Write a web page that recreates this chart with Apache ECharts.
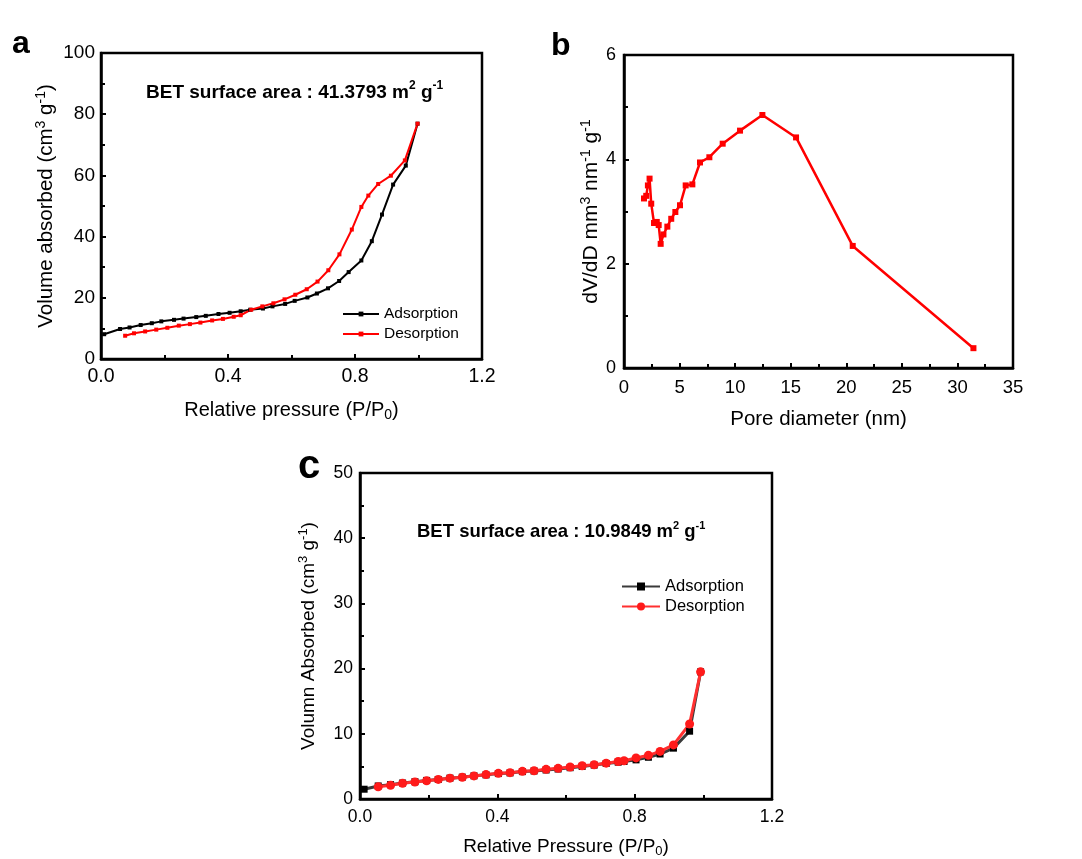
<!DOCTYPE html>
<html><head><meta charset="utf-8">
<script src="https://cdn.jsdelivr.net/npm/echarts@6/dist/echarts.min.js"></script>
<style>html,body{margin:0;padding:0;background:#fff}#main{width:1082px;height:859px}</style>
</head><body><div id="main"></div>
<script>
// ---- Panel a: N2 isotherm ----
const aAdsX = [0.01,0.06,0.09,0.125,0.16,0.19,0.23,0.26,0.30,0.33,0.37,0.405,0.44,0.47,0.51,0.54,0.58,0.61,0.65,0.68,0.715,0.75,0.78,0.82,0.853,0.885,0.92,0.96,0.997];
const aAdsY = [8.1,9.8,10.3,11.1,11.7,12.3,12.8,13.2,13.7,14.1,14.7,15.1,15.6,16.1,16.5,17.2,18.0,19.0,20.1,21.4,23.1,25.5,28.4,32.2,38.5,47.2,57.0,63.2,76.9];
const aDesX = [0.076,0.104,0.139,0.174,0.209,0.245,0.28,0.313,0.35,0.384,0.418,0.44,0.473,0.508,0.543,0.578,0.612,0.648,0.682,0.716,0.751,0.79,0.82,0.842,0.873,0.913,0.957,0.997];
const aDesY = [7.6,8.4,9.0,9.6,10.2,10.9,11.4,11.9,12.6,13.1,13.8,14.3,16.1,17.2,18.2,19.5,21.0,22.8,25.3,29.0,34.2,42.3,49.7,53.4,57.2,59.9,64.9,76.9];
// ---- Panel b: pore size distribution ----
const bX = [1.8,2.0,2.15,2.3,2.45,2.7,2.95,3.12,3.3,3.55,3.9,4.25,4.62,5.04,5.55,6.15,6.84,7.68,8.88,10.44,12.45,15.48,20.58,31.44];
const bY = [3.25,3.3,3.5,3.63,3.15,2.78,2.8,2.74,2.38,2.56,2.71,2.86,2.99,3.12,3.5,3.52,3.94,4.04,4.3,4.55,4.85,4.42,2.34,0.38];
// ---- Panel c: N2 isotherm ----
const cAdsX = [0.012,0.053,0.089,0.124,0.16,0.194,0.228,0.262,0.298,0.332,0.367,0.403,0.437,0.473,0.507,0.542,0.577,0.612,0.647,0.682,0.717,0.752,0.769,0.804,0.84,0.874,0.913,0.96,0.992];
const cAdsY = [1.5,2.0,2.2,2.45,2.65,2.85,3.0,3.2,3.35,3.55,3.7,3.9,4.0,4.2,4.3,4.45,4.6,4.8,5.0,5.2,5.45,5.65,5.75,6.0,6.4,6.9,7.8,10.4,19.5];
const cDesX = [0.053,0.089,0.124,0.16,0.194,0.228,0.262,0.298,0.332,0.367,0.403,0.437,0.473,0.507,0.542,0.577,0.612,0.647,0.682,0.717,0.752,0.769,0.804,0.84,0.874,0.913,0.96,0.992];
const cDesY = [1.87,2.1,2.4,2.6,2.8,3.0,3.2,3.33,3.54,3.74,3.94,4.04,4.24,4.34,4.55,4.7,4.9,5.1,5.25,5.5,5.76,5.86,6.3,6.7,7.3,8.3,11.5,19.5];
// ---- tick labels ----
const pressureTicks = ['0.0','0.4','0.8','1.2'];
const aYTicks = ['0','20','40','60','80','100'];
const bXTicks = ['0','5','10','15','20','25','30','35'];
const bYTicks = ['0','2','4','6'];
const cYTicks = ['0','10','20','30','40','50'];

const zip = (xs, ys) => xs.map((x, i) => [x, ys[i]]);
const FF = 'Liberation Sans';

function richName(fs) {
  return {
    n: {fontSize: fs, fontFamily: FF, color: '#000', lineHeight: fs + 4},
    sup: {fontSize: Math.round(fs * 0.68), fontFamily: FF, color: '#000', lineHeight: 10, verticalAlign: 'top'},
    sub: {fontSize: Math.round(fs * 0.68), fontFamily: FF, color: '#000', lineHeight: 10, verticalAlign: 'bottom'}
  };
}

function mkAxis(gi, max, interval, labels, fs, margin, name, gap, nfs) {
  return {
    type: 'value', gridIndex: gi, min: 0, max: max, interval: interval,
    name: name, nameLocation: 'middle', nameGap: gap,
    nameTextStyle: {rich: richName(nfs)},
    axisLine: {show: true, onZero: false, lineStyle: {color: '#000', width: 2.5}},
    axisTick: {show: true, inside: true, length: 5, lineStyle: {color: '#000', width: 2}},
    minorTick: {show: true, splitNumber: 2, length: 4, lineStyle: {color: '#000', width: 2}},
    axisLabel: {color: '#000', fontSize: fs, fontFamily: FF, margin: margin,
      formatter: v => labels[Math.round(v / interval)]},
    splitLine: {show: false}, minorSplitLine: {show: false}
  };
}

const gridBase = {show: true, borderColor: '#000', borderWidth: 2.5, backgroundColor: 'transparent', containLabel: false};
const annRich = fs => ({
  b: {fontSize: fs, fontWeight: 'bold', fontFamily: FF, fill: '#000', lineHeight: fs + 6},
  s: {fontSize: Math.round(fs * 0.62), fontWeight: 'bold', fontFamily: FF, fill: '#000', lineHeight: 12, verticalAlign: 'top'}
});

const option = {
  backgroundColor: '#fff',
  animation: false,
  textStyle: {fontFamily: FF},
  grid: [
    Object.assign({left: 101, top: 53, width: 381, height: 306}, gridBase),
    Object.assign({left: 624, top: 55, width: 389, height: 313}, gridBase),
    Object.assign({left: 360, top: 473, width: 412, height: 330}, gridBase)
  ],
  xAxis: [
    mkAxis(0, 1.2, 0.4, pressureTicks, 19.5, 8, '{n|Relative pressure (P/P}{sub|0}{n|)}', 39, 20),
    mkAxis(1, 35, 5, bXTicks, 18.5, 10, '{n|Pore diameter (nm)}', 39, 20.5),
    mkAxis(2, 1.2, 0.4, pressureTicks, 17.5, 9, '{n|Relative Pressure (P/P}{sub|0}{n|)}', 36, 19)
  ],
  yAxis: [
    mkAxis(0, 100, 20, aYTicks, 19, 6, '{n|Volume absorbed (cm}{sup|3}{n| g}{sup|-1}{n|)}', 42, 20.5),
    mkAxis(1, 6, 2, bYTicks, 18, 8, '{n|dV/dD mm}{sup|3}{n| nm}{sup|-1}{n| g}{sup|-1}', 20, 21),
    mkAxis(2, 50, 10, cYTicks, 17.5, 7, '{n|Volumn Absorbed (cm}{sup|3}{n| g}{sup|-1}{n|)}', 40, 19)
  ],
  legend: [
    {left: 342, top: 306, padding: 0, orient: 'vertical', itemWidth: 36, itemHeight: 6, itemGap: 4,
     textStyle: {fontSize: 15.5, fontFamily: FF, color: '#000'},
     data: ['Adsorption', 'Desorption'], selectedMode: false},
    {left: 621, top: 578, padding: 0, orient: 'vertical', itemWidth: 38, itemHeight: 10, itemGap: 3,
     textStyle: {fontSize: 16.5, fontFamily: FF, color: '#000'},
     formatter: n => n.replace(' (c)', ''),
     data: ['Adsorption (c)', 'Desorption (c)'], selectedMode: false}
  ],
  series: [
    {name: 'Adsorption', type: 'line', xAxisIndex: 0, yAxisIndex: 0, data: zip(aAdsX, aAdsY),
     symbol: 'rect', symbolSize: 4, lineStyle: {color: '#000', width: 2}, itemStyle: {color: '#000'}},
    {name: 'Desorption', type: 'line', xAxisIndex: 0, yAxisIndex: 0, data: zip(aDesX, aDesY),
     symbol: 'rect', symbolSize: 4, lineStyle: {color: '#ff0000', width: 2}, itemStyle: {color: '#ff0000'}},
    {name: 'PSD', type: 'line', xAxisIndex: 1, yAxisIndex: 1, data: zip(bX, bY),
     symbol: 'rect', symbolSize: 6, lineStyle: {color: '#ff0000', width: 2.5}, itemStyle: {color: '#ff0000'}},
    {name: 'Adsorption (c)', type: 'line', xAxisIndex: 2, yAxisIndex: 2, data: zip(cAdsX, cAdsY),
     symbol: 'rect', symbolSize: 7, lineStyle: {color: '#3a3a3a', width: 3}, itemStyle: {color: '#000'}},
    {name: 'Desorption (c)', type: 'line', xAxisIndex: 2, yAxisIndex: 2, data: zip(cDesX, cDesY),
     symbol: 'circle', symbolSize: 9, lineStyle: {color: '#ff3030', width: 3}, itemStyle: {color: '#ff1a1a'}}
  ],
  graphic: [
    {type: 'text', left: 12, top: 28, style: {text: 'a', font: 'bold 32px "Liberation Sans"', fill: '#000'}},
    {type: 'text', left: 551, top: 30, style: {text: 'b', font: 'bold 32px "Liberation Sans"', fill: '#000'}},
    {type: 'text', left: 298, top: 447, style: {text: 'c', font: 'bold 40px "Liberation Sans"', fill: '#000'}},
    {type: 'text', left: 146, top: 80, style: {
      text: '{b|BET surface area : 41.3793 m}{s|2}{b| g}{s|-1}', rich: annRich(19)}},
    {type: 'text', left: 417, top: 520, style: {
      text: '{b|BET surface area : 10.9849 m}{s|2}{b| g}{s|-1}', rich: annRich(18.5)}}
  ]
};

const chart = echarts.init(document.getElementById('main'), null, {renderer: 'canvas'});
chart.setOption(option);
</script>
</body></html>
